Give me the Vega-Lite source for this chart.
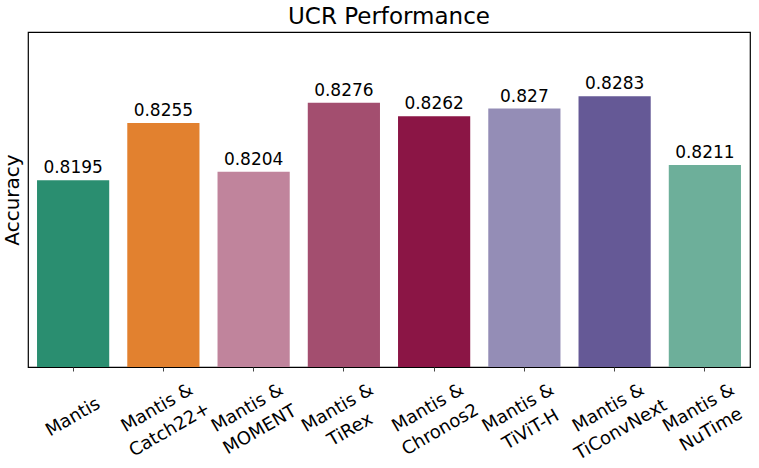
{
  "$schema": "https://vega.github.io/schema/vega-lite/v6.json",
  "autosize": "none",
  "width": 722,
  "height": 335,
  "padding": {"left": 28, "top": 32, "right": 9, "bottom": 101},
  "background": "white",
  "title": {
    "text": "UCR Performance",
    "fontSize": 23,
    "font": "DejaVu Sans",
    "fontWeight": "normal",
    "color": "black",
    "anchor": "middle",
    "baseline": "alphabetic",
    "offset": -15
  },
  "data": {
    "values": [
      {"model": "Mantis", "acc": 0.8195},
      {"model": "Mantis & Catch22+", "acc": 0.8255},
      {"model": "Mantis & MOMENT", "acc": 0.8204},
      {"model": "Mantis & TiRex", "acc": 0.8276},
      {"model": "Mantis & Chronos2", "acc": 0.8262},
      {"model": "Mantis & TiViT-H", "acc": 0.827},
      {"model": "Mantis & TiConvNext", "acc": 0.8283},
      {"model": "Mantis & NuTime", "acc": 0.8211}
    ]
  },
  "encoding": {
    "x": {
      "field": "model",
      "type": "nominal",
      "sort": null,
      "scale": {"paddingInner": 0.2, "paddingOuter": 0.1},
      "axis": {
        "title": null,
        "domain": false,
        "ticks": true,
        "tickSize": 4,
        "tickColor": "#444",
        "labelAngle": -30,
        "labelAlign": "center",
        "labelBaseline": "middle",
        "labelFont": "DejaVu Sans",
        "labelFontSize": 18,
        "labelColor": "black",
        "labelLineHeight": 25,
        "labelPadding": {"condition": {"test": "datum.value === 'Mantis'", "value": 46}, "value": 37},
        "labelOffset": {"condition": {"test": "datum.value === 'Mantis'", "value": 0}, "value": -6},
        "labelExpr": "split(replace(datum.label, ' & ', ' &|'), '|')"
      }
    },
    "y": {
      "field": "acc",
      "type": "quantitative",
      "scale": {"domain": [0.8, 0.835], "zero": false, "nice": false},
      "axis": {
        "title": "Accuracy",
        "titleFont": "DejaVu Sans",
        "titleFontSize": 20,
        "titleFontWeight": "normal",
        "titleColor": "black",
        "titlePadding": 6,
        "labels": false,
        "ticks": false,
        "domain": false,
        "grid": false
      }
    }
  },
  "layer": [
    {
      "mark": {"type": "bar"},
      "encoding": {
        "y2": {"datum": 0.8},
        "color": {
          "field": "model",
          "type": "nominal",
          "sort": null,
          "legend": null,
          "scale": {
            "range": ["#2a8e70", "#e2812f", "#c0849c", "#a34e6f", "#8b1545", "#948db6", "#655996", "#6daf9a"]
          }
        }
      }
    },
    {
      "mark": {"type": "text", "baseline": "alphabetic", "dy": -7, "fontSize": 17, "font": "DejaVu Sans", "color": "black"},
      "encoding": {
        "text": {"field": "acc", "type": "quantitative", "format": ".4~f"}
      }
    }
  ],
  "config": {
    "view": {"stroke": "black", "strokeWidth": 1.2},
    "axis": {"grid": false}
  }
}
